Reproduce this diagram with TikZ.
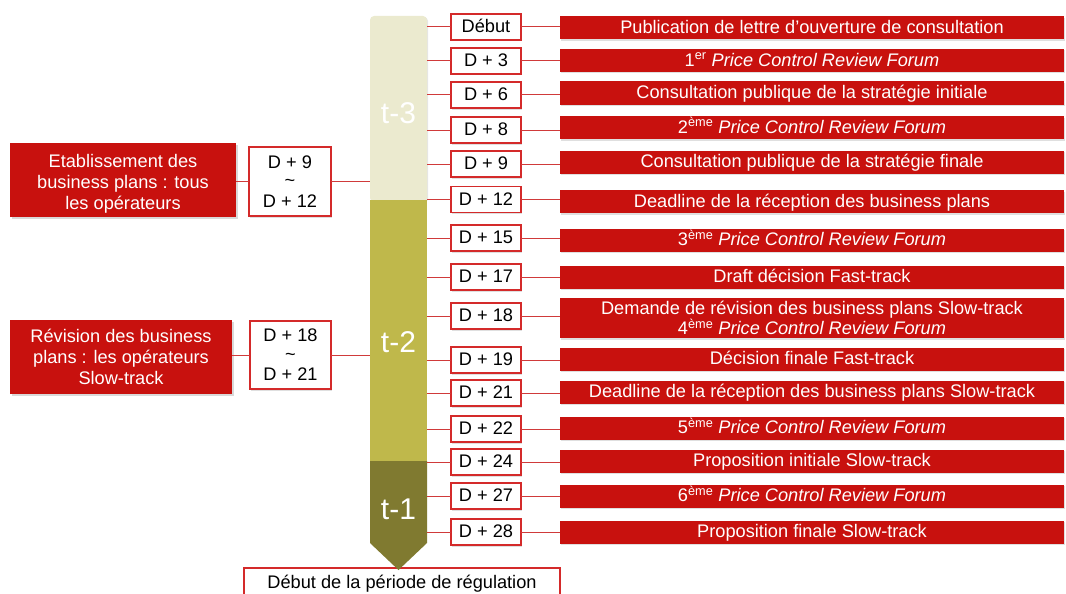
\documentclass[tikz,border=0pt]{standalone}
\usepackage{fontspec}
\setmainfont{Liberation Sans}
\usetikzlibrary{shadows}
\definecolor{rred}{HTML}{C8110E}
\definecolor{bred}{HTML}{D42A2A}
\definecolor{lred}{HTML}{D03A3A}
\definecolor{cream}{HTML}{EBEACF}
\definecolor{olive}{HTML}{BFB84B}
\definecolor{dolive}{HTML}{807A30}
\begin{document}
\begin{tikzpicture}[x=1pt,y=-1pt,
  every node/.style={inner sep=0pt, outer sep=0pt, align=center, font=\fontsize{18.2}{21}\selectfont},
  dbox/.style={draw=bred, line width=1.2pt, fill=white, minimum width=70pt, minimum height=26pt,
    text height=13.5pt, text depth=2pt,
    drop shadow={shadow xshift=1pt, shadow yshift=-1.5pt, opacity=0.25}},
  rbox/.style={fill=rred, text=white, minimum width=504pt, minimum height=23pt,
    text height=13.5pt, text depth=2pt,
    drop shadow={shadow xshift=1pt, shadow yshift=-1.5pt, opacity=0.25}},
  lbox/.style={fill=rred, text=white, minimum height=74pt,
    drop shadow={shadow xshift=1.5pt, shadow yshift=-2pt, opacity=0.3}},
  rangebox/.style={dbox, text height=, text depth=, font=\fontsize{18.2}{22.5}\selectfont},
  conn/.style={draw=lred, line width=1pt},
  tlab/.style={text=white, font=\fontsize{30}{32}\selectfont}]
\useasboundingbox (0,0) rectangle (1066,594);

% bottom box
\node[draw=bred, line width=1.2pt, fill=white, minimum width=316pt, minimum height=32pt] (fin) at (402,584) {Début de la période de régulation};

% bar
\node[fill=cream, rounded corners=4pt, minimum width=57pt, minimum height=186pt,
  drop shadow={shadow xshift=1pt, shadow yshift=-1pt, opacity=0.2}] (t3) at (398.5,109) {};
\node[fill=olive, minimum width=57pt, minimum height=261pt] (t2) at (398.5,330.5) {};
\fill[dolive] (370,461) -- (427,461) -- (427,543) -- (398.5,570) -- (370,543) -- cycle;
\coordinate (t1) at (427,500);
\node[tlab] (t3l) at (398.5,113) {t-3};
\node[tlab] (t2l) at (398.5,342) {t-2};
\node[tlab] (t1l) at (398.5,509) {t-1};

% date boxes
\node[dbox] (d0) at (486,27) {Début};
\node[dbox] (d3) at (486,61) {D + 3};
\node[dbox] (d6) at (486,95) {D + 6};
\node[dbox] (d8) at (486,130) {D + 8};
\node[dbox] (d9) at (486,164) {D + 9};
\node[dbox] (d12) at (486,199.5) {D + 12};
\node[dbox] (d15) at (486,238) {D + 15};
\node[dbox] (d17) at (486,277) {D + 17};
\node[dbox] (d18) at (486,316) {D + 18};
\node[dbox] (d19) at (486,360) {D + 19};
\node[dbox] (d21) at (486,393) {D + 21};
\node[dbox] (d22) at (486,429) {D + 22};
\node[dbox] (d24) at (486,462) {D + 24};
\node[dbox] (d27) at (486,496) {D + 27};
\node[dbox] (d28) at (486,532) {D + 28};

% red boxes
\node[rbox] (r0) at (812,28) {Publication de lettre d’ouverture de consultation};
\node[rbox] (r3) at (812,60.5) {1\textsuperscript{er} \textit{Price Control Review Forum}};
\node[rbox] (r6) at (812,93) {Consultation publique de la stratégie initiale};
\node[rbox] (r8) at (812,127.5) {2\textsuperscript{ème} \textit{Price Control Review Forum}};
\node[rbox] (r9) at (812,162) {Consultation publique de la stratégie finale};
\node[rbox] (r12) at (812,201.5) {Deadline de la réception des business plans};
\node[rbox] (r15) at (812,240) {3\textsuperscript{ème} \textit{Price Control Review Forum}};
\node[rbox] (r17) at (812,277) {Draft décision Fast-track};
\node[rbox, minimum height=40pt, text height=, text depth=, font=\fontsize{18.2}{20}\selectfont] (r18) at (812,318) {Demande de révision des business plans Slow-track\\4\textsuperscript{ème} \textit{Price Control Review Forum}};
\node[rbox] (r19) at (812,359) {Décision finale Fast-track};
\node[rbox] (r21) at (812,392) {Deadline de la réception des business plans Slow-track};
\node[rbox] (r22) at (812,428) {5\textsuperscript{ème} \textit{Price Control Review Forum}};
\node[rbox] (r24) at (812,461) {Proposition initiale Slow-track};
\node[rbox] (r27) at (812,496) {6\textsuperscript{ème} \textit{Price Control Review Forum}};
\node[rbox] (r28) at (812,532) {Proposition finale Slow-track};

% connectors bar -> date -> red box
\foreach \d in {0,3,6,8,9,12} {
  \draw[conn] (d\d.west) -- (d\d.west -| t3.east);
  \draw[conn] (d\d.east) -- (d\d.east -| r\d.west);
}
\foreach \d in {15,17,18,19,21,22} {
  \draw[conn] (d\d.west) -- (d\d.west -| t2.east);
  \draw[conn] (d\d.east) -- (d\d.east -| r\d.west);
}
\foreach \d in {24,27,28} {
  \draw[conn] (d\d.west) -- (d\d.west -| t1);
  \draw[conn] (d\d.east) -- (d\d.east -| r\d.west);
}

% left side
\node[lbox, minimum width=226pt] (e1) at (123,180) {};
\node[text=white] (e1t) at (123,183.5) {Etablissement des\\business plans : tous\\les opérateurs};
\node[rangebox, minimum width=82pt, minimum height=69pt] (dr1) at (290,181.5) {D + 9\\[-4pt]\char`\~\\[-2pt]D + 12};
\node[lbox, minimum width=222pt] (e2) at (121,357) {Révision des business\\plans : les opérateurs\\Slow-track};
\node[rangebox, minimum width=81pt, minimum height=68pt] (dr2) at (290.5,355) {D + 18\\[-4pt]\char`\~\\[-2pt]D + 21};

\draw[conn] (e1.east |- dr1.west) -- (dr1.west);
\draw[conn] (dr1.east) -- (dr1.east -| t3.west);
\draw[conn] (e2.east |- dr2.west) -- (dr2.west);
\draw[conn] (dr2.east) -- (dr2.east -| t2.west);
\end{tikzpicture}
\end{document}
